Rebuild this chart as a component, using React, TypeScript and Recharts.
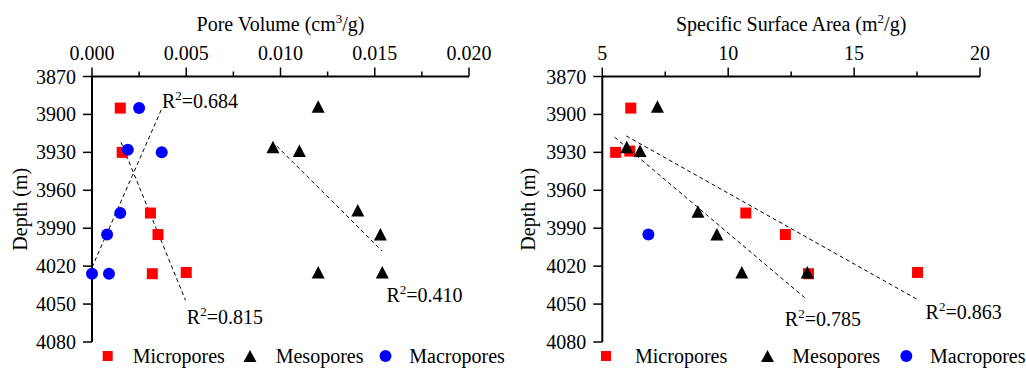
import React from "react";
import { ScatterChart, Scatter, XAxis, YAxis, ReferenceLine, Label } from "recharts";

const FONT = '"Liberation Serif", "Times New Roman", serif';
const RED = "#ff0000";
const BLUE = "#0000ff";
const INK = "#000000";

// shared depth axis
const depthTicks = [3870, 3900, 3930, 3960, 3990, 4020, 4050, 4080];

// pore volume panel (cm3/g)
const volumeTicks = [0, 0.0025, 0.005, 0.0075, 0.01, 0.0125, 0.015, 0.0175, 0.02];
const microVolume = [0.0015, 0.0016, 0.0031, 0.0035, 0.0032, 0.005];
const microVolumeDepth = [3895, 3930, 3978, 3995, 4026, 4025];
const mesoVolume = [0.012, 0.0096, 0.011, 0.0141, 0.0153, 0.012, 0.0154];
const mesoVolumeDepth = [3894, 3926, 3929, 3976, 3995, 4025, 4025];
const macroVolume = [0.0025, 0.0019, 0.0037, 0.0015, 0.0008, 0.0, 0.0009];
const macroVolumeDepth = [3895, 3928, 3930, 3978, 3995, 4026, 4026];

// fitted trends, [x, depth] at both ends
const microVolumeFit = [[0.00154, 3922], [0.00496, 4047]];
const mesoVolumeFit = [[0.0098, 3925], [0.01539, 4008]];
const macroVolumeFit = [[0.0, 4021], [0.0037, 3895.5]];
const volumeR2 = [
  { x: 0.00371, y: 3889, r2: "0.684" },
  { x: 0.00503, y: 4060, r2: "0.815" },
  { x: 0.01562, y: 4043, r2: "0.410" },
];

// specific surface area panel (m2/g)
const areaTicks = [5, 7.5, 10, 12.5, 15, 17.5, 20];
const microArea = [6.13, 5.53, 6.09, 10.7, 12.27, 13.19, 17.52];
const microAreaDepth = [3895, 3930, 3929, 3978, 3995, 4026, 4025];
const mesoArea = [7.19, 5.97, 6.5, 8.8, 9.55, 10.54, 13.14];
const mesoAreaDepth = [3894, 3926, 3929, 3977, 3995, 4025, 4025];
const macroArea = [6.83];
const macroAreaDepth = [3995];

const mesoAreaFit = [[5.49, 3918], [13.04, 4045]];
const microAreaFit = [[5.95, 3917], [17.48, 4046]];
const areaR2 = [
  { x: 12.25, y: 4062, r2: "0.785" },
  { x: 17.84, y: 4056, r2: "0.863" },
];

const zip = (xs: number[], ys: number[]) => xs.map((x, i) => ({ x, y: ys[i] }));

const textStyle = { fontFamily: FONT, fontSize: 20 };

const Square = ({ cx, cy }: any) => (
  <rect x={cx - 5.5} y={cy - 5.5} width={11} height={11} fill={RED} />
);
const Triangle = ({ cx, cy }: any) => (
  <polygon points={`${cx},${cy - 6.5} ${cx + 6.5},${cy + 6} ${cx - 6.5},${cy + 6}`} fill={INK} />
);
const Dot = ({ cx, cy }: any) => <circle cx={cx} cy={cy} r={6} fill={BLUE} />;

const R2Text = ({ cx, cy, payload }: any) => (
  <text x={cx} y={cy + 7} style={textStyle} fill={INK}>
    R
    <tspan dy={-8} style={{ fontSize: 13 }}>
      2
    </tspan>
    <tspan dy={8}>={payload.r2}</tspan>
  </text>
);

// top axis tick: long tick with label on the major step, short tick between
const makeTopTick = (step: number, fmt: (v: number) => string) => (props: any) => {
  const { x, y, payload } = props;
  const axisY = y + 9;
  const v = payload.value;
  const major = Math.abs(v / step - Math.round(v / step)) < 1e-6;
  return (
    <g>
      <line x1={x} x2={x} y1={major ? y : axisY - 5} y2={axisY} stroke={INK} strokeWidth={1.5} />
      {major && (
        <text x={x} y={y - 7.5} textAnchor="middle" style={textStyle} fill={INK}>
          {fmt(v)}
        </text>
      )}
    </g>
  );
};

const DepthTick = ({ x, y, payload }: any) => (
  <text x={x} y={y + 7} textAnchor="end" style={textStyle} fill={INK}>
    {payload.value}
  </text>
);

type LegendLayout = { marker: number[]; text: number[] };

const LegendOverlay = ({ layout }: { layout: LegendLayout }) => {
  const cy = 356;
  const labels = ["Micropores", "Mesopores", "Macropores"];
  const [sx, tx, cx] = layout.marker;
  return (
    <svg width={513} height={368} style={{ position: "absolute", left: 0, top: 0, pointerEvents: "none" }}>
      <rect x={sx - 5} y={cy - 5} width={10} height={10} fill={RED} />
      <polygon points={`${tx},${cy - 6} ${tx + 6.5},${cy + 6} ${tx - 6.5},${cy + 6}`} fill={INK} />
      <circle cx={cx} cy={cy} r={6} fill={BLUE} />
      {labels.map((l, i) => (
        <text key={l} x={layout.text[i]} y={363} style={textStyle} fill={INK}>
          {l}
        </text>
      ))}
    </svg>
  );
};

type PanelProps = {
  domain: [number, number];
  ticks: number[];
  step: number;
  fmt: (v: number) => string;
  title: React.ReactNode;
  yAxisWidth: number;
  marginRight: number;
  yTitleX: number;
  series: { data: { x: number; y: number }[]; shape: any; name: string }[];
  fits: number[][][];
  r2: { x: number; y: number; r2: string }[];
  legend: LegendLayout;
};

const Panel = (p: PanelProps) => (
  <div style={{ position: "relative", width: 513, height: 368 }}>
    <ScatterChart width={513} height={368} margin={{ top: 0, right: p.marginRight, bottom: 26, left: 0 }}>
      <XAxis
        type="number"
        dataKey="x"
        orientation="top"
        height={76.5}
        domain={p.domain}
        ticks={p.ticks}
        interval={0}
        tick={makeTopTick(p.step, p.fmt)}
        tickLine={false}
        tickSize={9}
        tickMargin={0}
        axisLine={{ stroke: INK, strokeWidth: 2 }}
      >
        <Label
          content={({ viewBox }: any) => (
            <text
              x={viewBox.x + viewBox.width / 2}
              y={viewBox.y + 31}
              textAnchor="middle"
              style={textStyle}
              fill={INK}
            >
              {p.title}
            </text>
          )}
        />
      </XAxis>
      <YAxis
        type="number"
        dataKey="y"
        reversed
        width={p.yAxisWidth}
        domain={[3870, 4080]}
        ticks={depthTicks}
        interval={0}
        tickSize={9}
        tickMargin={7}
        tick={DepthTick}
        tickLine={{ stroke: INK, strokeWidth: 1.5 }}
        axisLine={{ stroke: INK, strokeWidth: 2 }}
      >
        <Label
          content={({ viewBox }: any) => {
            const x = viewBox.x + p.yTitleX;
            const y = viewBox.y + viewBox.height / 2;
            return (
              <text
                x={x}
                y={y}
                transform={`rotate(-90 ${x} ${y})`}
                textAnchor="middle"
                dominantBaseline="central"
                style={textStyle}
                fill={INK}
              >
                Depth (m)
              </text>
            );
          }}
        />
      </YAxis>
      {p.fits.map((f, i) => (
        <ReferenceLine
          key={i}
          segment={[
            { x: f[0][0], y: f[0][1] },
            { x: f[1][0], y: f[1][1] },
          ]}
          stroke={INK}
          strokeWidth={1}
          strokeDasharray="4 3"
        />
      ))}
      {p.series.map((s) => (
        <Scatter key={s.name} name={s.name} data={s.data} shape={s.shape} isAnimationActive={false} />
      ))}
      <Scatter name="r2" data={p.r2} shape={R2Text} isAnimationActive={false} legendType="none" />
    </ScatterChart>
    <LegendOverlay layout={p.legend} />
  </div>
);

export default function App() {
  return (
    <div style={{ position: "absolute", left: 0, top: 0, width: 1026, height: 368, background: "#fff", display: "flex" }}>
      <Panel
        domain={[0, 0.02]}
        ticks={volumeTicks}
        step={0.005}
        fmt={(v) => v.toFixed(3)}
        title={
          <>
            <tspan>Pore Volume (cm</tspan>
            <tspan dy={-8} style={{ fontSize: 13 }}>
              3
            </tspan>
            <tspan dy={8}>/g)</tspan>
          </>
        }
        yAxisWidth={92}
        marginRight={44}
        yTitleX={20}
        series={[
          { name: "Micropores", data: zip(microVolume, microVolumeDepth), shape: Square },
          { name: "Mesopores", data: zip(mesoVolume, mesoVolumeDepth), shape: Triangle },
          { name: "Macropores", data: zip(macroVolume, macroVolumeDepth), shape: Dot },
        ]}
        fits={[microVolumeFit, mesoVolumeFit, macroVolumeFit]}
        r2={volumeR2}
        legend={{ marker: [107.7, 250, 385.5], text: [132.7, 275.7, 409.3] }}
      />
      <Panel
        domain={[5, 20]}
        ticks={areaTicks}
        step={5}
        fmt={(v) => String(v)}
        title={
          <>
            <tspan>Specific Surface Area (m</tspan>
            <tspan dy={-8} style={{ fontSize: 13 }}>
              2
            </tspan>
            <tspan dy={8}>/g)</tspan>
          </>
        }
        yAxisWidth={89.3}
        marginRight={46}
        yTitleX={15}
        series={[
          { name: "Micropores", data: zip(microArea, microAreaDepth), shape: Square },
          { name: "Mesopores", data: zip(mesoArea, mesoAreaDepth), shape: Triangle },
          { name: "Macropores", data: zip(macroArea, macroAreaDepth), shape: Dot },
        ]}
        fits={[mesoAreaFit, microAreaFit]}
        r2={areaR2}
        legend={{ marker: [93, 254.5, 393.3], text: [122, 279.3, 417] }}
      />
    </div>
  );
}
